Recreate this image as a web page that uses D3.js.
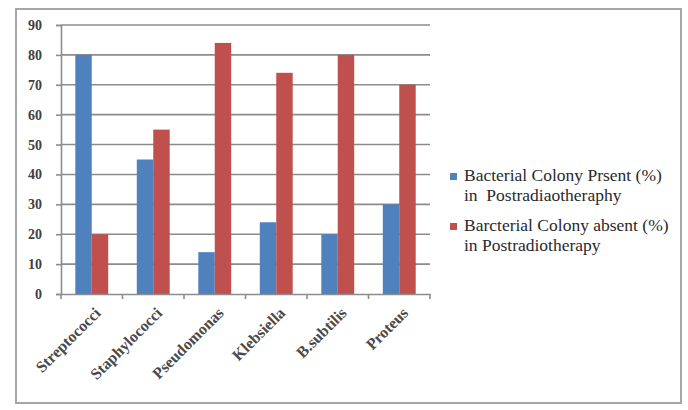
<!DOCTYPE html>
<html>
<head>
<meta charset="utf-8">
<script src="https://cdn.jsdelivr.net/npm/d3@7"></script>
<style>
  html, body { margin: 0; padding: 0; background: #fff; }
  svg { display: block; }
</style>
</head>
<body>
<svg id="chart" width="688" height="410"></svg>
<script>
// Bacterial colony counts after radiotherapy, per organism
const categories = ["Streptococci", "Staphylococci", "Pseudomonas", "Klebsiella", "B.subtilis", "Proteus"];
const presentValues = [80, 45, 14, 24, 20, 30];
const absentValues = [20, 55, 84, 74, 80, 70];
const yTicks = [0, 10, 20, 30, 40, 50, 60, 70, 80, 90];
const seriesNames = [
  ["Bacterial Colony Prsent (%)", "in  Postradiaotheraphy"],
  ["Barcterial Colony absent (%)", "in Postradiotherapy"]
];
const seriesColors = ["#4F81BD", "#C0504D"];
const serif = "'Liberation Serif', 'Times New Roman', 'DejaVu Serif', serif";

const svg = d3.select("#chart");

// outer frame
svg.append("rect")
  .attr("x", 16).attr("y", 9).attr("width", 665).attr("height", 394)
  .attr("fill", "#fff").attr("stroke", "#a6a6a6").attr("stroke-width", 2);

const plot = { left: 61, right: 430, top: 25, bottom: 294 };

const x = d3.scaleBand().domain(categories).range([plot.left, plot.right]).paddingInner(0).paddingOuter(0);
const inner = d3.scaleBand().domain([0, 1]).range([0, x.bandwidth()]).paddingInner(0).paddingOuter(0.87);
const y = d3.scaleLinear().domain([0, 90]).range([plot.bottom, plot.top]);

// horizontal gridlines
svg.append("g").selectAll("line").data(yTicks.filter(d => d > 0)).join("line")
  .attr("x1", plot.left).attr("x2", plot.right)
  .attr("y1", d => y(d)).attr("y2", d => y(d))
  .attr("stroke", "#8c8c8c").attr("stroke-width", 1.6);

// bars
const rows = categories.map((c, i) => ({ c, v: [presentValues[i], absentValues[i]] }));
const groups = svg.append("g").selectAll("g").data(rows).join("g")
  .attr("transform", d => `translate(${x(d.c)},0)`);
groups.selectAll("rect").data(d => d.v.map((v, k) => ({ v, k }))).join("rect")
  .attr("x", d => inner(d.k))
  .attr("width", inner.bandwidth())
  .attr("y", d => y(d.v))
  .attr("height", d => y(0) - y(d.v))
  .attr("fill", d => seriesColors[d.k]);

// y axis
const yAxis = svg.append("g")
  .attr("transform", `translate(${plot.left},0)`)
  .call(d3.axisLeft(y).tickValues(yTicks).tickSize(5).tickPadding(14).tickFormat(d3.format("d")));
yAxis.select(".domain").attr("stroke", "#8c8c8c").attr("stroke-width", 1.6);
yAxis.selectAll(".tick line").attr("stroke", "#8c8c8c").attr("stroke-width", 1.6);
yAxis.selectAll(".tick text")
  .attr("font-family", serif)
  .attr("font-size", 14).attr("font-weight", "bold").attr("fill", "#404040");

// x axis
const xAxis = svg.append("g")
  .attr("transform", `translate(0,${plot.bottom})`)
  .call(d3.axisBottom(x).tickSize(0).tickFormat(""));
xAxis.select(".domain").attr("stroke", "#8c8c8c").attr("stroke-width", 1.6);
xAxis.selectAll(".tick").remove();
svg.append("g").selectAll("line")
  .data(d3.range(categories.length + 1).map(i => plot.left + i * x.step()))
  .join("line")
  .attr("x1", d => d).attr("x2", d => d)
  .attr("y1", plot.bottom).attr("y2", plot.bottom + 5)
  .attr("stroke", "#8c8c8c").attr("stroke-width", 1.6);

// rotated category labels
svg.append("g").selectAll("text").data(categories).join("text")
  .attr("transform", d => `translate(${x(d) + x.bandwidth() / 2 + 10},${plot.bottom + 20}) rotate(-45)`)
  .attr("text-anchor", "end")
  .attr("font-family", serif)
  .attr("font-size", 16).attr("font-weight", "bold").attr("fill", "#4a4a4a")
  .text(d => d);

// legend
const legend = svg.append("g").attr("transform", "translate(450,0)");
const legendTop = [181, 231];
seriesNames.forEach((lines, k) => {
  legend.append("rect")
    .attr("x", 0).attr("y", legendTop[k] - 8).attr("width", 7).attr("height", 7)
    .attr("fill", seriesColors[k]);
  const t = legend.append("text")
    .attr("x", 14).attr("y", legendTop[k])
    .attr("font-family", serif)
    .attr("font-size", 17.5).attr("fill", "#2a2a2a");
  lines.forEach((ln, j) => {
    t.append("tspan").attr("x", 14).attr("dy", j === 0 ? 0 : 20).attr("xml:space", "preserve").text(ln);
  });
});
</script>
</body>
</html>
